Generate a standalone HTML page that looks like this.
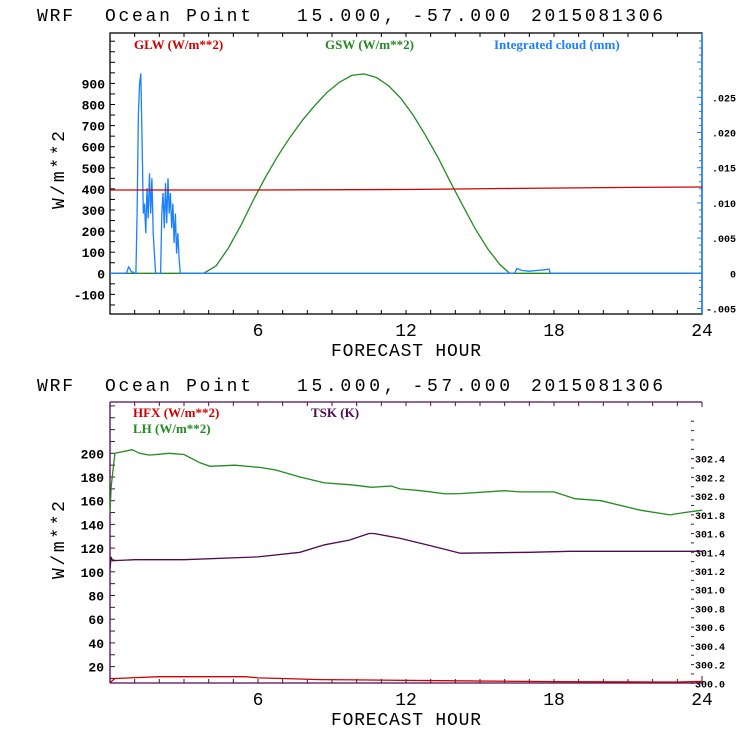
<!DOCTYPE html>
<html><head><meta charset="utf-8"><style>
html,body{margin:0;padding:0;background:#fff;}
svg{display:block;}
.t{font-family:"Liberation Mono",monospace;font-size:18px;fill:#000;}
.tk{font-family:"Liberation Mono",monospace;font-size:13px;font-weight:bold;fill:#000;}
.tr{font-family:"Liberation Mono",monospace;font-size:10px;font-weight:bold;fill:#000;}
.lg{font-family:"Liberation Serif",serif;font-size:13px;font-weight:bold;}
</style></head><body>
<svg id="c" width="740" height="740" viewBox="0 0 740 740"></svg>
<script>
// ---- Top panel data ----
const glwHours = [0, 6, 12, 16, 20, 24];
const glwValues = [395, 395, 397, 402, 406, 409];
const gswHours = [0, 3.8, 4.3, 4.8, 5.3, 5.8, 6.3, 6.8, 7.3, 7.8, 8.3, 8.8, 9.3, 9.8, 10.3, 10.8, 11.3, 11.8, 12.3, 12.8, 13.3, 13.8, 14.3, 14.8, 15.3, 15.8, 16.2, 24];
const gswValues = [0, 0, 35, 120, 225, 345, 455, 555, 645, 725, 795, 858, 905, 938, 945, 928, 888, 828, 748, 652, 548, 432, 322, 212, 118, 42, 0, 0];
const cloudHours = [0, 0.5, 0.65, 0.7, 0.75, 0.8, 0.85, 0.9, 0.95, 1.0, 1.05, 1.1, 1.15, 1.2, 1.25, 1.3, 1.35, 1.4, 1.45, 1.5, 1.55, 1.6, 1.65, 1.7, 1.75, 1.8, 1.85, 2.05, 2.1, 2.15, 2.2, 2.25, 2.3, 2.35, 2.4, 2.45, 2.5, 2.55, 2.6, 2.65, 2.7, 2.75, 2.8, 2.85, 16.4, 16.5, 16.7, 17.0, 17.3, 17.6, 17.8, 17.85, 24];
const cloudValues = [0, 0, 0, 0.0003, 0.0009, 0.0007, 0.0003, 0.00015, 0.00015, 0, 0, 0.0085, 0.0227, 0.027, 0.0284, 0.0185, 0.0085, 0.0099, 0.0057, 0.0121, 0.0078, 0.0142, 0.0085, 0.0135, 0.0057, 0.0028, 0, 0, 0.0085, 0.0114, 0.0064, 0.0128, 0.0071, 0.0135, 0.0085, 0.0114, 0.0064, 0.0099, 0.0043, 0.0085, 0.0028, 0.0057, 0.0021, 0, 0, 0.0007, 0.0004, 0.0003, 0.0004, 0.0005, 0.0006, 0, 0];
const topLeftTicks = [-100, 0, 100, 200, 300, 400, 500, 600, 700, 800, 900];
const topRightTicks = [-0.005, 0, 0.005, 0.010, 0.015, 0.020, 0.025];
const topRightLabels = ["-.005", "0", ".005", ".010", ".015", ".020", ".025"];
// ---- Bottom panel data ----
const lhHours = [0, 0.05, 0.2, 0.9, 1.2, 1.6, 2.4, 3, 3.65, 4.05, 5.07, 6.1, 6.7, 7.7, 8.7, 9.7, 10.1, 10.6, 11.4, 11.75, 12.6, 13.6, 14.2, 16.0, 16.6, 18, 18.85, 19.9, 21.5, 22.7, 23.3, 24];
const lhValues = [150, 172, 200, 203, 200, 198.5, 200, 199, 192, 189, 190, 188, 186, 180, 175, 173.5, 172.7, 171.3, 172.4, 170, 168.4, 165.7, 166, 168.4, 167.4, 167.4, 161.7, 160, 152, 148, 150, 152];
const tskHours = [0, 0.05, 0.1, 1, 3, 6, 7.7, 8.7, 9.7, 10.5, 10.7, 11.75, 13, 14.2, 17, 18.65, 24];
const tskValues = [301.22, 301.35, 301.31, 301.32, 301.32, 301.35, 301.40, 301.48, 301.53, 301.60, 301.60, 301.55, 301.47, 301.39, 301.40, 301.41, 301.41];
const hfxHours = [0, 0.2, 2, 5.5, 6, 7, 8.5, 10, 14, 18, 22, 23, 24];
const hfxValues = [6.5, 10, 11.5, 11.5, 10.5, 10, 9, 8.8, 8, 7.3, 7, 7, 7.5];
const botLeftTicks = [20, 40, 60, 80, 100, 120, 140, 160, 180, 200];
const botRightTicks = [300.0, 300.2, 300.4, 300.6, 300.8, 301.0, 301.2, 301.4, 301.6, 301.8, 302.0, 302.2, 302.4];
const xTickLabels = [6, 12, 18, 24];

const NS = "http://www.w3.org/2000/svg";
const svg = document.getElementById('c');
function mk(tag, attrs, parent, text) {
  const e = document.createElementNS(NS, tag);
  for (const k in attrs) e.setAttribute(k, attrs[k]);
  if (text !== undefined) e.textContent = text;
  (parent || svg).appendChild(e);
  return e;
}
const X0 = 110, X1 = 702;
const xS = h => X0 + h * (X1 - X0) / 24;
const T_TOP = 33, T_BOT = 314;
const yTL = v => 273.3 - v * 0.211;
const yTR = v => 273.3 - v * 7040;
const B_TOP = 402, B_BOT = 683;
const yBL = v => 453.3 - (v - 200) * 1.185;
const yBR = v => 683.3 - (v - 300) * 93.6;

function line(hs, vs, yf, color, name, g) {
  const pts = hs.map((h, i) => xS(h).toFixed(1) + ',' + yf(vs[i]).toFixed(1)).join(' ');
  const p = mk('polyline', {points: pts, fill: 'none', stroke: color, 'stroke-width': 1.3}, g);
  
  
}
function title(y, name) {
  const g = mk('g', {});
  
  
  mk('text', {x: 37, y: y, class: 't', textLength: 36}, g, 'WRF');
  mk('text', {x: 105, y: y, class: 't', textLength: 146}, g, 'Ocean Point');
  mk('text', {x: 297, y: y, class: 't', textLength: 213}, g, '15.000, -57.000');
  mk('text', {x: 531, y: y, class: 't', textLength: 132}, g, '2015081306');
}
function xAxis(top, bot, color, g) {
  for (let h = 1; h < 24; h++) {
    mk('line', {x1: xS(h), x2: xS(h), y1: bot, y2: bot - 4, stroke: color}, g);
    mk('line', {x1: xS(h), x2: xS(h), y1: top, y2: top + 4, stroke: color}, g);
  }
  xTickLabels.forEach(v => {
    const t = mk('text', {x: xS(v), y: bot + 22, class: 't', 'text-anchor': 'middle', 'font-size': 17}, g, String(v));
    
    
  });
  const xt = mk('text', {x: 406, y: bot + 42, class: 't', 'text-anchor': 'middle', 'font-size': 17, textLength: 150}, g, 'FORECAST HOUR');
  
  
}
function yTitle(cy, g) {
  const t = mk('text', {x: 0, y: 0, class: 't', 'text-anchor': 'middle', 'font-size': 17, textLength: 78, transform: `translate(64,${cy}) rotate(-90)`}, g, 'W/m**2');
  
  
}

// ===== TOP PANEL =====
title(21, 'top-title');
const gt = mk('g', {});


mk('rect', {x: X0, y: T_TOP, width: X1 - X0, height: T_BOT - T_TOP, fill: 'none', stroke: '#000', 'stroke-width': 1.3}, gt);
mk('line', {x1: X1, x2: X1, y1: T_TOP, y2: T_BOT, stroke: '#1a80ff', 'stroke-width': 1.5}, gt);
xAxis(T_TOP, T_BOT, '#000', gt);
for (let v = -150; v <= 1100; v += 50) {
  const y = yTL(v);
  if (y < T_TOP || y > T_BOT) continue;
  mk('line', {x1: X0, x2: X0 + 5, y1: y, y2: y, stroke: '#000'}, gt);
}
topLeftTicks.forEach(v => {
  const t = mk('text', {x: X0 - 5, y: yTL(v) + 5, class: 'tk', 'text-anchor': 'end'}, gt, String(v));
  
  
});
for (let i = -5; i <= 33; i++) {
  const y = yTR(i * 0.001);
  if (y < T_TOP || y > T_BOT) continue;
  mk('line', {x1: X1, x2: X1 - (i % 5 === 0 ? 5 : 3), y1: y, y2: y, stroke: '#1a80ff'}, gt);
}
topRightTicks.forEach((v, i) => {
  const t = mk('text', {x: 736, y: yTR(v) + 4, class: 'tr', 'text-anchor': 'end'}, gt, topRightLabels[i]);
  
  
});
yTitle(170, gt);
line(gswHours, gswValues, yTL, '#228b22', 'gsw-line', gt);
line(cloudHours, cloudValues, yTR, '#1a80ff', 'cloud-line', gt);
line(glwHours, glwValues, yTL, '#d00000', 'glw-line', gt);
[['GLW (W/m**2)', 134, '#d00000', 'legend-glw'], ['GSW (W/m**2)', 325, '#228b22', 'legend-gsw'], ['Integrated cloud (mm)', 494, '#1a80ff', 'legend-cloud']].forEach(l => {
  const t = mk('text', {x: l[1], y: 49, class: 'lg', fill: l[2]}, gt, l[0]);
  
  
});

// ===== BOTTOM PANEL =====
title(391, 'bottom-title');
const gb = mk('g', {});


const PUR = '#500a50';
mk('line', {x1: X0, x2: X1, y1: B_TOP, y2: B_TOP, stroke: PUR, 'stroke-width': 1.3}, gb);
mk('line', {x1: X0, x2: X1, y1: B_BOT, y2: B_BOT, stroke: PUR, 'stroke-width': 1.3}, gb);
mk('line', {x1: X0, x2: X0, y1: B_TOP, y2: B_BOT, stroke: PUR, 'stroke-width': 1.3}, gb);
mk('line', {x1: X1, x2: X1, y1: B_TOP, y2: B_TOP + 5, stroke: PUR}, gb);
mk('line', {x1: X1, x2: X1, y1: B_BOT, y2: B_BOT - 7, stroke: PUR}, gb);
xAxis(B_TOP, B_BOT, PUR, gb);
for (let v = 10; v <= 240; v += 10) {
  const y = yBL(v);
  if (y < B_TOP || y > B_BOT) continue;
  mk('line', {x1: X0, x2: X0 + 5, y1: y, y2: y, stroke: PUR}, gb);
}
botLeftTicks.forEach(v => {
  const t = mk('text', {x: X0 - 6, y: yBL(v) + 5, class: 'tk', 'text-anchor': 'end'}, gb, String(v));
  
  
});
for (let i = 0; i <= 28; i++) {
  const y = yBR(300 + i * 0.1);
  if (y < B_TOP || y > B_BOT + 1) continue;
  mk('line', {x1: 691, x2: 694, y1: y, y2: y, stroke: PUR}, gb);
}
botRightTicks.forEach(v => {
  const t = mk('text', {x: 695, y: yBR(v) + 4, class: 'tr'}, gb, v.toFixed(1));
  
  
});
yTitle(540, gb);
line(lhHours, lhValues, yBL, '#228b22', 'lh-line', gb);
line(tskHours, tskValues, yBR, PUR, 'tsk-line', gb);
line(hfxHours, hfxValues, yBL, '#d00000', 'hfx-line', gb);
[['HFX (W/m**2)', 133, 417, '#d00000', 'legend-hfx'], ['LH  (W/m**2)', 133, 433, '#228b22', 'legend-lh'], ['TSK (K)', 311, 417, PUR, 'legend-tsk']].forEach(l => {
  const t = mk('text', {x: l[1], y: l[2], class: 'lg', fill: l[3], 'xml:space': 'preserve'}, gb, l[0]);
  
  
});
</script>
</body></html>
